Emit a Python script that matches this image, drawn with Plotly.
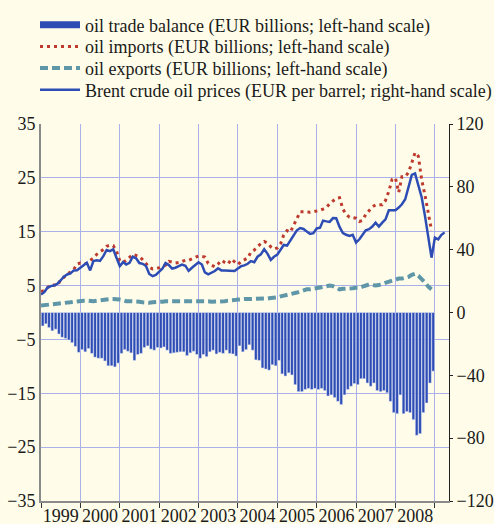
import pandas as pd
import plotly.graph_objects as go

# monthly values from Jan 1999 (EUR billions, left-hand scale)
trade_balance = [
    -2.5, -2.1, -2.8, -3.4, -3.1, -4.0, -4.6, -4.8, -5.1, -5.6, -6.3, -7.4,
    -6.9, -7.3, -6.7, -7.6, -8.3, -8.5, -8.5, -9.0, -9.9, -9.9, -10.1, -9.4,
    -7.6, -6.9, -7.2, -7.5, -8.9, -7.8, -7.6, -6.5, -6.2, -6.8, -7.0, -6.5,
    -6.6, -6.4, -7.0, -7.6, -7.5, -7.4, -7.3, -7.3, -8.0, -7.5, -7.2, -7.8,
    -8.5, -7.8, -8.2, -7.3, -7.0, -7.7, -7.4, -7.6, -7.0, -7.6, -7.7, -8.1,
    -6.2, -7.3, -6.9, -6.0, -7.0, -8.8, -8.9, -10.3, -10.5, -10.7, -9.7, -9.9,
    -8.9, -11.4, -11.8, -11.2, -11.6, -13.4, -14.7, -14.7, -14.3, -14.1, -14.3, -14.1,
    -14.3, -14.1, -14.5, -15.5, -15.3, -15.8, -16.5, -17.1, -15.3, -14.3, -13.7, -13.2,
    -13.4, -12.3, -12.3, -13.1, -13.7, -13.1, -14.5, -14.7, -14.5, -14.9, -16.5, -18.6,
    -18.8, -15.3, -18.8, -18.4, -18.6, -19.9, -22.8, -22.5, -18.6, -16.8, -13.1, -10.9,
]

oil_imports = [
    3.9, 4.1, 4.6, 5.1, 5.1, 5.0, 6.0, 6.6, 7.1, 7.5, 8.0, 9.0,
    9.2, 9.1, 9.1, 9.7, 10.1, 10.8, 11.2, 11.7, 12.3, 12.5, 12.4, 11.4,
    9.6, 9.3, 9.7, 10.2, 10.8, 10.6, 10.4, 9.8, 9.0, 8.4, 8.1, 8.2,
    8.3, 8.6, 8.8, 9.5, 9.4, 9.2, 9.3, 9.5, 9.7, 9.7, 10.0, 10.2,
    10.5, 10.4, 10.3, 9.1, 8.8, 8.5, 9.0, 9.7, 9.3, 9.0, 9.9, 9.4,
    8.9, 9.5, 9.8, 10.1, 11.2, 11.6, 12.2, 12.8, 13.2, 12.9, 12.2, 11.8,
    12.0, 12.8, 14.4, 15.2, 14.9, 16.1, 17.5, 18.7, 18.7, 18.6, 18.6, 18.7,
    18.8, 19.0, 19.2, 19.5, 20.2, 20.8, 21.2, 21.3, 19.2, 18.2, 17.7, 17.6,
    17.5, 16.9, 17.1, 18.2, 19.0, 19.6, 20.0, 20.0, 20.0, 20.8, 22.5, 24.7,
    25.0, 22.3, 25.2, 25.2, 26.0, 27.8, 29.7, 29.0, 24.6, 21.8, 18.2, 15.2,
]

oil_exports = [
    1.3, 1.35, 1.4, 1.5, 1.55, 1.6, 1.65, 1.7, 1.8, 1.9, 2.0, 2.1,
    2.2, 2.2, 2.2, 2.1, 2.1, 2.2, 2.3, 2.4, 2.5, 2.5, 2.5, 2.5,
    2.4, 2.3, 2.1, 2.1, 2.1, 2.1, 2.0, 1.9, 1.8, 1.8, 1.9, 1.9,
    2.0, 2.0, 2.1, 2.1, 2.1, 2.1, 2.1, 2.2, 2.2, 2.2, 2.2, 2.2,
    2.2, 2.2, 2.1, 2.1, 2.0, 2.0, 2.1, 2.1, 2.1, 2.2, 2.2, 2.3,
    2.4, 2.5, 2.5, 2.5, 2.5, 2.5, 2.5, 2.5, 2.5, 2.6, 2.7, 2.7,
    2.8, 3.0, 3.1, 3.2, 3.3, 3.5, 3.7, 3.9, 4.2, 4.3, 4.3, 4.4,
    4.6, 4.7, 4.8, 4.9, 5.0, 4.9, 4.6, 4.3, 4.4, 4.4, 4.5, 4.5,
    4.6, 4.6, 4.8, 5.0, 5.2, 5.1, 5.0, 5.1, 5.3, 5.6, 5.8, 6.0,
    6.2, 6.3, 6.3, 6.4, 6.6, 7.0, 7.2, 6.8, 6.3, 5.6, 4.8, 4.3,
]

# EUR per barrel (right-hand scale), Jan 1999 - Apr 2009
brent_eur = [
    11.5, 13.0, 15.7, 16.8, 17.2, 18.2, 20.4, 22.8, 24.2, 24.9, 26.8, 26.9,
    28.5, 30.0, 31.7, 26.8, 32.8, 33.2, 32.8, 35.9, 39.8, 39.1, 40.2, 34.9,
    29.6, 32.1, 30.6, 31.6, 35.5, 34.5, 31.5, 31.0, 29.6, 24.5, 23.2, 24.0,
    26.0, 28.0, 31.5, 30.2, 28.0, 28.5, 29.5, 30.5, 29.8, 26.5, 28.5, 30.5,
    32.0, 30.5, 25.5, 24.3, 25.2, 26.4, 28.2, 26.8, 26.8, 26.8, 26.6, 26.4,
    28.0, 29.5, 30.0, 31.0, 32.7, 32.0, 35.5, 37.0, 40.3, 37.5, 33.5, 35.5,
    36.8, 40.5, 43.0, 42.6, 46.0, 49.2, 52.3, 53.8, 53.2, 51.5, 50.0, 50.5,
    53.5, 54.0, 58.5, 58.0, 57.7, 60.1, 60.0, 54.5, 50.5, 49.5, 48.7, 49.5,
    44.5, 46.6, 49.3, 52.3, 53.0, 54.7, 57.2, 54.7, 57.2, 59.3, 65.1, 65.1,
    65.1, 66.8, 68.9, 72.1, 80.6, 87.6, 88.5, 80.6, 73.2, 61.5, 48.7, 34.9,
    47.7, 46.6, 49.3, 51.0,
]

months = pd.date_range("1999-01-01", periods=len(brent_eur), freq="MS")
trade_months = months[:len(trade_balance)]

BG = "#FFFDE9"
GRID = "#A9B0EA"
BLUE = "#2D4DB5"

fig = go.Figure()

# bars; the wide legend swatch comes from the companion trace in the same group
fig.add_trace(go.Bar(
    x=trade_months, y=trade_balance,
    xperiod="M1", xperiodalignment="middle",
    name="oil trade balance (EUR billions; left-hand scale)",
    legendgroup="balance", showlegend=False,
    marker=dict(color=BLUE, line=dict(color="#E4E8F8", width=0.5)),
))
fig.add_trace(go.Scatter(
    x=trade_months[:1], y=[None], mode="lines",
    name="oil trade balance (EUR billions; left-hand scale)",
    legendgroup="balance", legend="legend",
    line=dict(color=BLUE, width=7), hoverinfo="skip",
))
fig.add_trace(go.Scatter(
    x=trade_months, y=oil_imports, mode="lines",
    name="oil imports (EUR billions; left-hand scale)",
    legend="legend2",
    line=dict(color="#BF3A2E", width=3, dash="3px,4px"),
))
fig.add_trace(go.Scatter(
    x=trade_months, y=oil_exports, mode="lines",
    name="oil exports (EUR billions; left-hand scale)",
    legend="legend3",
    line=dict(color="#5F97A9", width=4, dash="8px,4px"),
))
fig.add_trace(go.Scatter(
    x=months, y=brent_eur, mode="lines", yaxis="y2",
    name="Brent crude oil prices (EUR per barrel; right-hand scale)",
    legend="legend4",
    line=dict(color=BLUE, width=2.5),
))

L, R, T, B = 41, 45, 124, 23
W, H = 494, 524


def legend_row(center_px):
    # one legend per row so the rows sit as tightly as in the original
    return dict(
        x=(35 - L) / (W - L - R), y=(H - B - center_px) / (H - T - B),
        xanchor="left", yanchor="middle",
        font=dict(size=18), bgcolor="rgba(0,0,0,0)", itemwidth=40,
    )


fig.update_layout(
    width=W, height=H,
    margin=dict(l=L, r=R, t=T, b=B, autoexpand=False),
    paper_bgcolor=BG, plot_bgcolor=BG,
    font=dict(family="Liberation Serif", size=18, color="#1a1a1a"),
    bargap=0.12,
    legend=legend_row(25),
    legend2=legend_row(46.7),
    legend3=legend_row(68.3),
    legend4=legend_row(90),
    xaxis=dict(
        type="date", range=["1999-01-01", "2009-05-12"],
        tick0="1999-01-01", dtick="M12", tickformat="%Y",
        ticklabelmode="period",
        showgrid=True, gridcolor=GRID, gridwidth=1,
        ticks="outside", ticklen=5, tickcolor="#333",
        ticklabelstandoff=-8,
        showline=True, linecolor="#8a8a8a", linewidth=2,
    ),
    yaxis=dict(
        range=[-35, 35], tick0=-35, dtick=10,
        showgrid=True, gridcolor=GRID, gridwidth=1, zeroline=False,
        showline=True, linecolor="#8a8a8a", linewidth=2,
        ticks="",
    ),
    yaxis2=dict(
        range=[-120, 120], tick0=-120, dtick=40,
        overlaying="y", side="right",
        showgrid=False, zeroline=False,
        showline=True, linecolor="#222", linewidth=1,
        ticks="outside", ticklen=3, tickcolor="#222",
    ),
)

fig.write_html(
    "out.html",
    config={"displayModeBar": False},
    post_script="document.body.style.margin='0';",
)
